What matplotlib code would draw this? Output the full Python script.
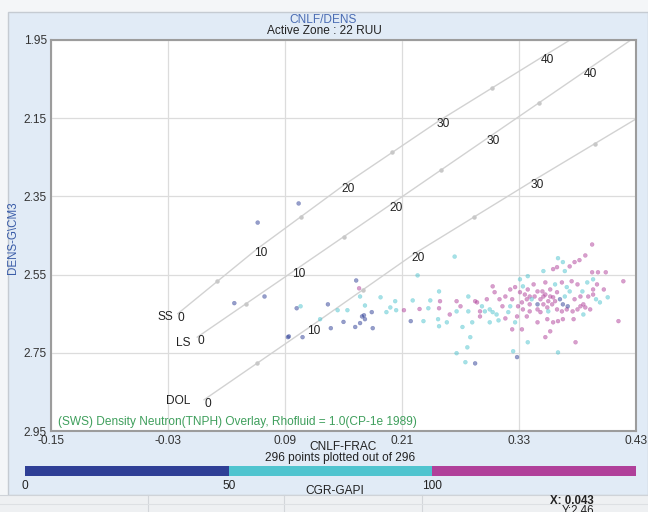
import matplotlib
matplotlib.use("Agg")
import matplotlib.pyplot as plt
import numpy as np
from matplotlib.colors import ListedColormap, BoundaryNorm
from matplotlib.patches import Rectangle
from matplotlib.cm import ScalarMappable

plt.rcParams['font.family'] = ['Liberation Sans', 'DejaVu Sans']

# ---------------- data ----------------
x_ticks = [-0.15, -0.03, 0.09, 0.21, 0.33, 0.45]
x_tick_labels = ["-0.15", "-0.03", "0.09", "0.21", "0.33", "0.43"]
y_ticks = [1.95, 2.15, 2.35, 2.55, 2.75, 2.95]
y_tick_labels = ["1.95", "2.15", "2.35", "2.55", "2.75", "2.95"]

porosity = [0, 10, 20, 30, 40, 45]
ss_nphi = [-0.020, 0.061, 0.151, 0.249, 0.356, 0.410]
ss_rhob = [2.650, 2.485, 2.320, 2.155, 1.990, 1.908]
ls_nphi = [0.000, 0.100, 0.200, 0.300, 0.400, 0.450]
ls_rhob = [2.710, 2.539, 2.368, 2.197, 2.026, 1.941]
dol_nphi = [0.007, 0.116, 0.223, 0.345, 0.470, 0.535]
dol_rhob = [2.870, 2.683, 2.496, 2.309, 2.122, 2.029]
lith_names = ["SS", "LS", "DOL"]

gr_bounds = [0, 50, 100, 150]
gr_colors = ['#2e3f96', '#4fc4cf', '#b0409a']

cnlf = [0.062, 0.104, 0.038, 0.069, 0.094, 0.093, 0.108, 0.102, 0.163, 0.166,
        0.167, 0.172, 0.179, 0.169, 0.171, 0.172, 0.167, 0.162, 0.180, 0.137,
        0.144, 0.154, 0.150, 0.106, 0.203, 0.204, 0.212, 0.219, 0.228, 0.237,
        0.248, 0.249, 0.248, 0.247, 0.248, 0.232, 0.226, 0.198, 0.264, 0.405,
        0.398, 0.392, 0.387, 0.382, 0.370, 0.375, 0.369, 0.365, 0.355, 0.377,
        0.405, 0.411, 0.419, 0.437, 0.432, 0.406, 0.410, 0.406, 0.406, 0.413,
        0.400, 0.395, 0.396, 0.393, 0.398, 0.390, 0.385, 0.379, 0.375, 0.372,
        0.377, 0.369, 0.365, 0.360, 0.355, 0.352, 0.357, 0.345, 0.349, 0.341,
        0.338, 0.333, 0.329, 0.334, 0.341, 0.349, 0.352, 0.338, 0.331, 0.326,
        0.321, 0.316, 0.310, 0.305, 0.303, 0.313, 0.321, 0.328, 0.319, 0.297,
        0.292, 0.295, 0.300, 0.303, 0.290, 0.285, 0.278, 0.270, 0.266, 0.256,
        0.272, 0.282, 0.280, 0.277, 0.266, 0.275, 0.285, 0.300, 0.323, 0.328,
        0.324, 0.339, 0.357, 0.362, 0.365, 0.370, 0.375, 0.386, 0.388, 0.370,
        0.326, 0.349, 0.333, 0.359, 0.382, 0.390, 0.384, 0.367, 0.374, 0.379,
        0.393, 0.401, 0.362, 0.354, 0.339, 0.334, 0.331, 0.339, 0.341, 0.349,
        0.359, 0.369, 0.374, 0.380, 0.367, 0.362, 0.355, 0.346, 0.266, 0.287,
        0.290, 0.307, 0.357, 0.364, 0.387, 0.403, 0.409, 0.343, 0.323, 0.336,
        0.360, 0.396, 0.417, 0.421, 0.309, 0.316, 0.278, 0.259, 0.239, 0.221,
        0.194, 0.188, 0.126, 0.134]
dens = [2.417, 2.368, 2.623, 2.606, 2.708, 2.710, 2.710, 2.636, 2.565, 2.585,
        2.606, 2.629, 2.646, 2.657, 2.654, 2.664, 2.674, 2.684, 2.687, 2.687,
        2.641, 2.641, 2.671, 2.631, 2.618, 2.641, 2.641, 2.669, 2.638, 2.636,
        2.593, 2.618, 2.636, 2.664, 2.682, 2.669, 2.552, 2.634, 2.504, 2.473,
        2.501, 2.513, 2.518, 2.529, 2.508, 2.518, 2.531, 2.536, 2.541, 2.541,
        2.544, 2.544, 2.544, 2.567, 2.669, 2.562, 2.575, 2.588, 2.601, 2.621,
        2.570, 2.593, 2.626, 2.631, 2.634, 2.639, 2.644, 2.639, 2.626, 2.613,
        2.606, 2.595, 2.608, 2.618, 2.626, 2.613, 2.570, 2.575, 2.593, 2.606,
        2.613, 2.621, 2.631, 2.639, 2.644, 2.639, 2.646, 2.657, 2.595, 2.582,
        2.588, 2.606, 2.613, 2.595, 2.580, 2.631, 2.631, 2.657, 2.646, 2.613,
        2.631, 2.644, 2.639, 2.646, 2.657, 2.618, 2.606, 2.631, 2.644, 2.672,
        2.684, 2.672, 2.710, 2.736, 2.751, 2.774, 2.777, 2.672, 2.690, 2.761,
        2.746, 2.723, 2.710, 2.695, 2.672, 2.669, 2.664, 2.664, 2.723, 2.749,
        2.672, 2.672, 2.690, 2.664, 2.593, 2.575, 2.567, 2.575, 2.570, 2.582,
        2.606, 2.606, 2.588, 2.593, 2.588, 2.580, 2.562, 2.554, 2.626, 2.626,
        2.634, 2.639, 2.644, 2.631, 2.618, 2.606, 2.606, 2.606, 2.618, 2.621,
        2.644, 2.652, 2.601, 2.626, 2.613, 2.639, 2.613, 2.613, 2.613, 2.601,
        2.644, 2.652, 2.588, 2.608, 2.667, 2.662, 2.644, 2.652, 2.616, 2.616,
        2.646, 2.608, 2.664, 2.626]
gr = [35, 35, 35, 35, 35, 35, 35, 35, 35, 120,
      75, 75, 35, 35, 35, 35, 35, 35, 35, 35,
      75, 75, 45, 75, 75, 75, 120, 35, 120, 75,
      75, 120, 120, 75, 75, 75, 75, 75, 75, 120,
      120, 120, 120, 120, 75, 75, 120, 120, 75, 75,
      120, 120, 120, 120, 120, 75, 120, 120, 120, 75,
      75, 75, 120, 120, 120, 120, 120, 135, 45, 35,
      75, 120, 120, 120, 120, 135, 120, 120, 120, 120,
      120, 135, 120, 120, 135, 120, 120, 120, 120, 120,
      120, 120, 120, 120, 120, 120, 75, 120, 75, 120,
      75, 75, 75, 75, 120, 120, 75, 120, 75, 75,
      75, 75, 75, 75, 75, 75, 35, 75, 135, 35,
      75, 75, 120, 120, 120, 120, 120, 120, 120, 75,
      75, 120, 120, 120, 75, 120, 120, 75, 120, 75,
      120, 120, 120, 120, 120, 75, 75, 75, 135, 45,
      135, 135, 135, 45, 135, 135, 135, 135, 120, 120,
      120, 75, 120, 120, 120, 120, 75, 75, 120, 135,
      75, 75, 120, 75, 75, 120, 75, 120, 75, 75,
      75, 75, 75, 45]

# ---------------- figure ----------------
W, H = 648, 512
FS = 8.6
fig = plt.figure(figsize=(W / 100, H / 100), dpi=100, facecolor='#f4f6f8')

def fx(px):
    return px / W

def fy(py):
    return 1 - py / H

# background panel and bottom info band (behind the axes)
fig.add_artist(Rectangle((fx(8), fy(495)), fx(640), 483 / H, transform=fig.transFigure,
                         facecolor='#e1ebf6', edgecolor='#c5cbd2', lw=1.0, zorder=-10))
fig.add_artist(Rectangle((0, 0), 1, 17 / H, transform=fig.transFigure,
                         facecolor='#eef0f2', edgecolor='none', zorder=-10))
for xs in [148, 284, 422]:
    fig.add_artist(plt.Line2D([fx(xs), fx(xs)], [0, fy(495)], transform=fig.transFigure,
                              color='#d3d6da', lw=0.8, zorder=-9))
fig.add_artist(plt.Line2D([0, 1], [fy(495), fy(495)], transform=fig.transFigure,
                          color='#cfd3d8', lw=0.8, zorder=-9))
fig.add_artist(plt.Line2D([0, 1], [fy(504), fy(504)], transform=fig.transFigure,
                          color='#dde0e3', lw=0.8, zorder=-9))

ax = fig.add_axes([fx(51), fy(431), fx(636) - fx(51), fy(40) - fy(431)])
ax.set_facecolor('white')
ax.set_xlim(x_ticks[0], x_ticks[-1])
ax.set_ylim(y_ticks[-1], y_ticks[0])
ax.set_xticks(x_ticks)
ax.set_xticklabels(x_tick_labels)
ax.set_yticks(y_ticks)
ax.set_yticklabels(y_tick_labels)
ax.tick_params(length=0, labelsize=FS, colors='#333333', pad=3)
ax.grid(True, color='#dcdcdc', lw=0.9)
ax.set_axisbelow(True)
for s in ax.spines.values():
    s.set_color('#9c9c9c')
    s.set_linewidth(1.5)

# lithology lines
line_color = '#d2d2d2'
name_offsets = [(-3.6, -2.2), (-5.0, -4.3), (-10.0, -0.7)]
for name, nx, ny, off in zip(lith_names, [ss_nphi, ls_nphi, dol_nphi],
                             [ss_rhob, ls_rhob, dol_rhob], name_offsets):
    ax.plot(nx, ny, color=line_color, lw=1.0, zorder=1)
    # 5 p.u. tick markers between labelled points
    mx = [(nx[i] + nx[i + 1]) / 2 for i in range(4)]
    my = [(ny[i] + ny[i + 1]) / 2 for i in range(4)]
    ax.plot(mx, my, 'o', ms=2.2, color='#c8c8c8', zorder=1)
    for p, xv, yv in zip(porosity, nx, ny):
        if p % 10 == 0:
            ax.annotate(str(p), (xv, yv), xytext=(2.5, -3), textcoords='offset points',
                        ha='center', va='center', fontsize=FS, color='#222222', zorder=4)
    ax.annotate(name, (nx[0], ny[0]), xytext=off, textcoords='offset points',
                ha='right', va='center', fontsize=FS, color='#222222', zorder=4)

# scatter
cmap = ListedColormap(gr_colors)
norm = BoundaryNorm(gr_bounds, cmap.N)
ax.scatter(cnlf, dens, c=gr, cmap=cmap, norm=norm, s=8, alpha=0.5,
           linewidths=0.3, zorder=3)

ax.text(0.012, 0.024, "(SWS) Density Neutron(TNPH) Overlay, Rhofluid = 1.0(CP-1e 1989)",
        transform=ax.transAxes, fontsize=FS, color='#3f9f5c', va='center', ha='left', zorder=5)

# titles and labels
fig.text(fx(323), fy(20), "CNLF/DENS", ha='center', va='center', fontsize=FS, color='#4a6cb3')
fig.text(fx(324), fy(31), "Active Zone : 22 RUU", ha='center', va='center', fontsize=FS,
         color='#222222')
fig.text(fx(13), fy(238), "DENS-G\\CM3", rotation=90, ha='center', va='center', fontsize=8.3,
         color='#3a5ca8')
fig.text(fx(343), fy(447), "CNLF-FRAC", ha='center', va='center', fontsize=FS, color='#222222')
fig.text(fx(340), fy(458), "296 points plotted out of 296", ha='center', va='center',
         fontsize=FS, color='#222222')

# colour bar
cax = fig.add_axes([fx(25), fy(476), fx(636) - fx(25), 10 / H])
cb = fig.colorbar(ScalarMappable(norm=norm, cmap=cmap), cax=cax, orientation='horizontal')
cb.set_ticks(gr_bounds[:3])
cb.set_ticklabels([str(v) for v in gr_bounds[:3]])
cb.outline.set_visible(False)
cax.minorticks_off()
cax.tick_params(which='both', length=0, labelsize=FS, colors='#222222', pad=3)
fig.text(fx(335), fy(491), "CGR-GAPI", ha='center', va='center', fontsize=FS, color='#222222')

fig.text(fx(594), fy(501), "X: 0.043", ha='right', va='center', fontsize=8.3,
         fontweight='bold', color='#222222')
fig.text(fx(594), fy(511), "Y:2.46", ha='right', va='center', fontsize=8.3, color='#222222')

fig.savefig("out.png", dpi=100, facecolor=fig.get_facecolor())
